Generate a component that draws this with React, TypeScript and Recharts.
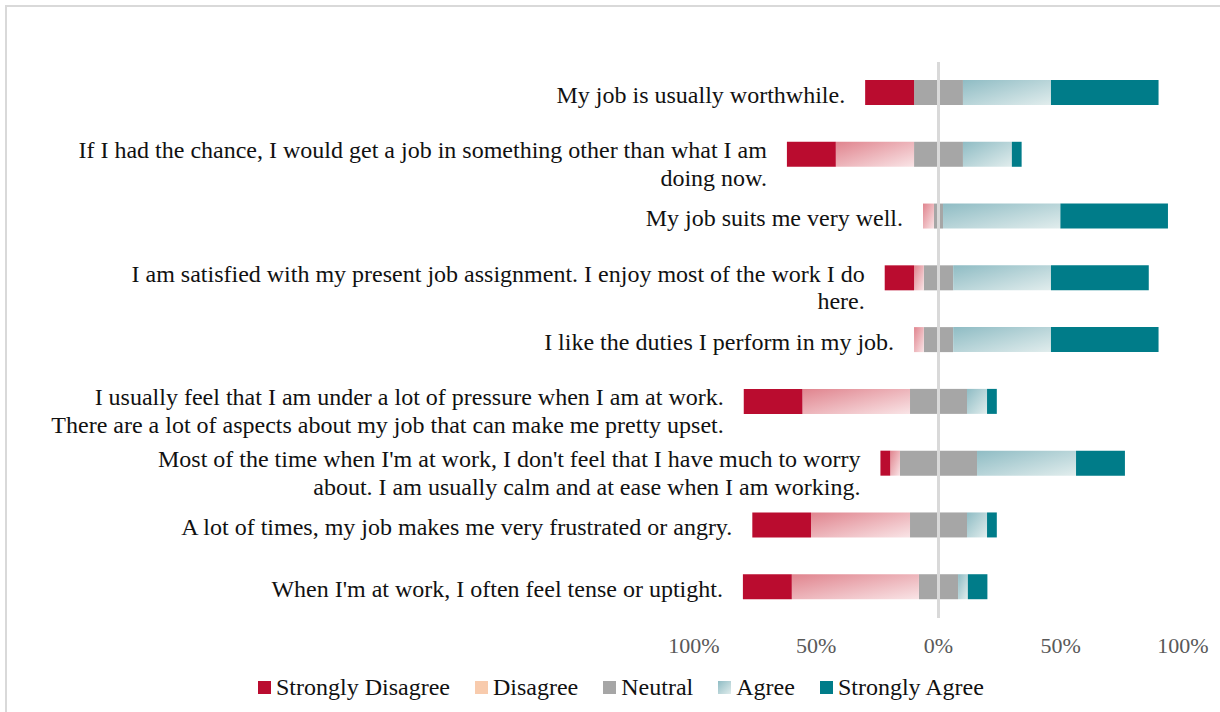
import React from 'react';
import { BarChart, Bar, XAxis, YAxis, ReferenceLine, LabelList } from 'recharts';

// statements, top to bottom
const statements = [
  'My job is usually worthwhile.',
  'If I had the chance, I would get a job in something other than what I am\ndoing now.',
  'My job suits me very well.',
  'I am satisfied with my present job assignment. I enjoy most of the work I do\nhere.',
  'I like the duties I perform in my job.',
  'I usually feel that I am under a lot of pressure when I am at work.\nThere are a lot of aspects about my job that can make me pretty upset.',
  "Most of the time when I'm at work, I don't feel that I have much to worry\nabout. I am usually calm and at ease when I am working.",
  'A lot of times, my job makes me very frustrated or angry.',
  "When I'm at work, I often feel tense or uptight.",
];

// percentages
const stronglyDisagree = [20, 20, 0, 12, 0, 24, 4, 24, 20];
const disagree = [0, 32, 4.5, 4, 4, 44, 4, 40.5, 52];
const neutral = [20, 20, 3.7, 12, 12, 23.3, 31.5, 23.3, 16];
const agree = [36, 20, 48, 40, 40, 8.2, 40.5, 8.2, 4];
const stronglyAgree = [44, 4, 44, 40, 44, 4, 20, 4, 8];

const axisTicks = [-100, -50, 0, 50, 100];

const legendItems = [
  { name: 'Strongly Disagree', swatch: '#BA0C2F' },
  { name: 'Disagree', swatch: '#F8CBAD' },
  { name: 'Neutral', swatch: '#A6A6A6' },
  { name: 'Agree', swatch: 'linear-gradient(135deg, #8FBCC4, #E0ECEC)' },
  { name: 'Strongly Agree', swatch: '#007C89' },
];

const FONT = '"Liberation Serif", "Times New Roman", serif';

// label sits left of the outermost negative segment
const data = statements.map((s, i) => {
  const outer = stronglyDisagree[i] > 0 ? 'sd' : disagree[i] > 0 ? 'd' : 'n';
  return {
    statement: s,
    nNeg: -neutral[i] / 2,
    nPos: neutral[i] / 2,
    d: -disagree[i],
    a: agree[i],
    sd: -stronglyDisagree[i],
    sa: stronglyAgree[i],
    labSd: outer === 'sd' ? s : '',
    labD: outer === 'd' ? s : '',
    labN: outer === 'n' ? s : '',
  };
});

const renderStatement = (props: any) => {
  const { value } = props;
  if (!value) return null;
  const vb = props.viewBox ?? props;
  const left = Math.min(vb.x, vb.x + vb.width);
  const cy = vb.y + vb.height / 2;
  const lines = String(value).split('\n');
  const firstY = (lines.length > 1 ? cy - 4 : cy + 2) + 8;
  const x = left - 20;
  return (
    <text x={x} y={firstY} textAnchor="end" fontFamily={FONT} fontSize={24} fill="#111">
      {lines.map((l, k) => (
        <tspan key={k} x={x} dy={k === 0 ? 0 : 27.5}>{l}</tspan>
      ))}
    </text>
  );
};

export default function App() {
  return (
    <div style={{ position: 'fixed', left: 0, top: 0, width: 1220, height: 712, overflow: 'hidden', background: '#fff' }}>
      <div style={{ position: 'absolute', left: 5, top: 5, width: 1300, height: 800, borderTop: '2px solid #D9D9D9', borderLeft: '2px solid #D9D9D9' }} />
      <div style={{ position: 'absolute', left: 0, top: 0 }}>
        <BarChart
          width={1220}
          height={712}
          data={data}
          layout="vertical"
          stackOffset="sign"
          barSize={25}
          margin={{ top: 62, right: 37, bottom: 64, left: 694 }}
        >
          <defs>
            <linearGradient id="disagreeFill" x1="0" y1="0" x2="1" y2="1">
              <stop offset="0%" stopColor="#E0848E" />
              <stop offset="100%" stopColor="#F9E4E6" />
            </linearGradient>
            <linearGradient id="agreeFill" x1="0" y1="0" x2="1" y2="1">
              <stop offset="0%" stopColor="#8FBCC4" />
              <stop offset="100%" stopColor="#E1EDED" />
            </linearGradient>
          </defs>
          <XAxis
            type="number"
            domain={[-100, 100]}
            ticks={axisTicks}
            tickFormatter={(v: number) => `${Math.abs(v)}%`}
            axisLine={false}
            tickLine={false}
            tickMargin={13}
            tick={{ fontSize: 22, fill: '#595959', fontFamily: FONT }}
            height={30}
          />
          <YAxis type="category" dataKey="statement" hide />
          <Bar dataKey="nNeg" stackId="s" fill="#A6A6A6" isAnimationActive={false}>
            <LabelList dataKey="labN" content={renderStatement} />
          </Bar>
          <Bar dataKey="nPos" stackId="s" fill="#A6A6A6" isAnimationActive={false} />
          <Bar dataKey="d" stackId="s" fill="url(#disagreeFill)" isAnimationActive={false}>
            <LabelList dataKey="labD" content={renderStatement} />
          </Bar>
          <Bar dataKey="a" stackId="s" fill="url(#agreeFill)" isAnimationActive={false} />
          <Bar dataKey="sd" stackId="s" fill="#BA0C2F" isAnimationActive={false}>
            <LabelList dataKey="labSd" content={renderStatement} />
          </Bar>
          <Bar dataKey="sa" stackId="s" fill="#007C89" isAnimationActive={false} />
          <ReferenceLine x={0} stroke="#D9D9D9" strokeWidth={3} />
        </BarChart>
      </div>
      <div
        style={{
          position: 'absolute',
          left: 258,
          top: 674,
          display: 'flex',
          alignItems: 'center',
          fontFamily: FONT,
          fontSize: 24,
          color: '#111',
          whiteSpace: 'nowrap',
        }}
      >
        {legendItems.map((it) => (
          <div key={it.name} style={{ display: 'flex', alignItems: 'center', marginRight: 25 }}>
            <span style={{ display: 'inline-block', width: 13, height: 13, background: it.swatch, marginRight: 5 }} />
            <span>{it.name}</span>
          </div>
        ))}
      </div>
    </div>
  );
}
